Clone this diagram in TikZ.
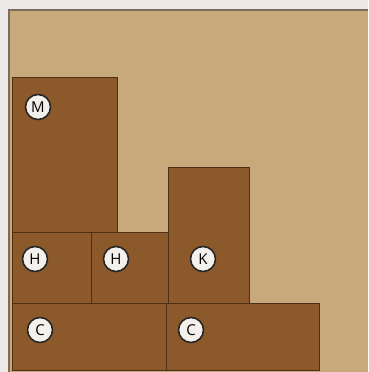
\documentclass[tikz,border=0pt]{standalone}
\usepackage{fontspec}
\setsansfont{Open Sans}
\usepackage{xcolor}
\usepackage{tikz}
\definecolor{Margin}{HTML}{ECEAE8}
\definecolor{Tan}{HTML}{C8A97C}
\definecolor{FrameLine}{HTML}{7E6A58}
\definecolor{BlockBrown}{HTML}{8C592B}
\definecolor{BlockLine}{HTML}{4B3017}
\definecolor{TagWhite}{HTML}{F4F1EC}

\begin{document}
\begin{tikzpicture}[x=1pt,y=-1pt,
    block/.style={draw=BlockLine,fill=BlockBrown,line width=1pt,anchor=north west,
    inner sep=0pt},
    tag/.style={circle,draw=black!85,fill=TagWhite,line width=1.6pt,minimum size=25pt,
    inner sep=0pt,font=\sffamily\fontsize{15}{15}\selectfont}]
    \useasboundingbox (0,0) rectangle (368,372);
    \fill[Margin] (0,0) rectangle (368,372);
    \fill[Tan] (9,10) rectangle (368,372);
    \draw[FrameLine,line width=1.5pt] (9,372) -- (9,10) -- (368,10);
    \node[block,minimum width=105pt,minimum height=155pt](m)at(12,77){};
    \node[block,minimum width=79pt,minimum height=71pt](h1)at(12,232){};
    \node[block,minimum width=77pt,minimum height=71pt](h2)at(91,232){};
    \node[block,minimum width=81pt,minimum height=136pt](k)at(168,167){};
    \node[block,minimum width=154pt,minimum height=67pt](c1)at(12,303){};
    \node[block,minimum width=153pt,minimum height=67pt](c2)at(166,303){};
    \node[tag](mtag)at([xshift=26pt,yshift=-30pt]m.north west){M};
    \node[tag](h1tag)at([xshift=23pt,yshift=-27pt]h1.north west){H};
    \node[tag](h2tag)at([xshift=25pt,yshift=-27pt]h2.north west){H};
    \node[tag](ktag)at([xshift=35pt,yshift=-92pt]k.north west){K};
    \node[tag](c1tag)at([xshift=28pt,yshift=-27pt]c1.north west){C};
    \node[tag](c2tag)at([xshift=25pt,yshift=-27pt]c2.north west){C};
\end{tikzpicture}
\end{document}
